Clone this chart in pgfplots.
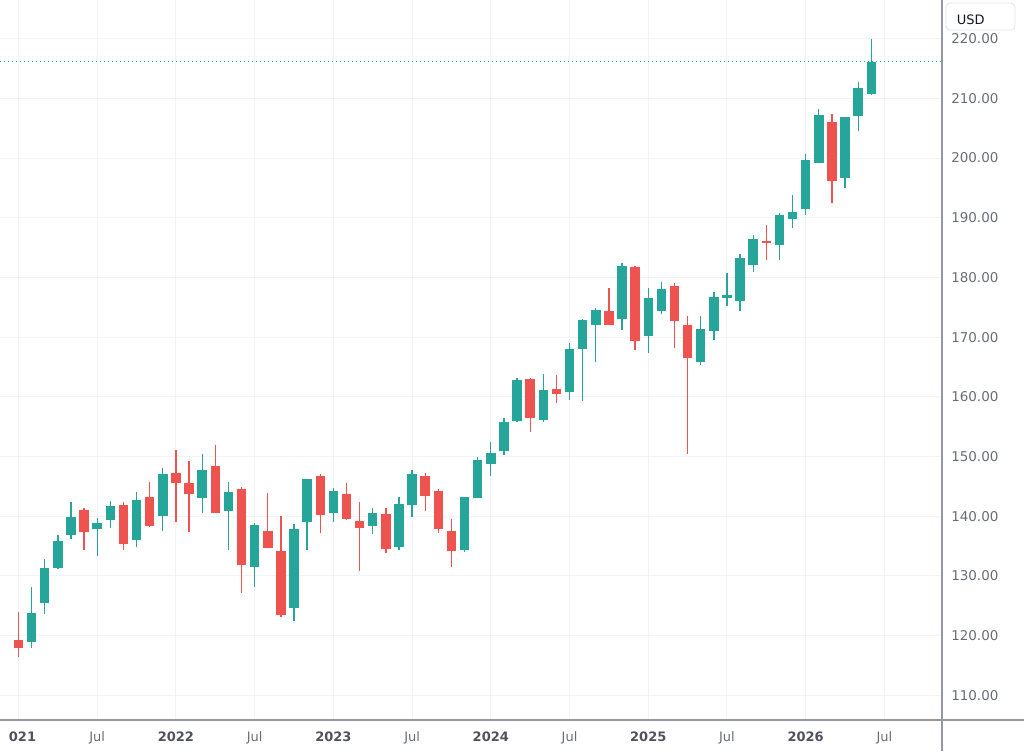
\documentclass[border=0pt]{standalone}
\usepackage{pgfplots}
\pgfplotsset{compat=1.18}
\usepackage{pgfplotstable}
\usepackage{fontspec}
\setmainfont{DejaVu Sans}
\definecolor{up}{HTML}{26A69A}
\definecolor{down}{HTML}{EF5350}
\definecolor{gridc}{HTML}{F0F3FA}
\definecolor{axc}{HTML}{9598A1}
\definecolor{lblc}{HTML}{6A6D78}
\definecolor{yearc}{HTML}{50535E}
\definecolor{boxc}{HTML}{E0E3EB}
\definecolor{txtc}{HTML}{131722}

\pgfplotstableread{
i open high low close
1 118.9 128.1 118.0 123.8
2 125.5 132.9 123.6 131.4
3 131.3 136.8 131.1 135.9
4 136.8 142.3 136.2 139.9
6 137.8 139.75 133.4 138.8
7 139.3 142.5 138.0 141.7
9 136.0 144.05 134.9 142.65
11 140.1 148.0 137.5 147.0
14 143.1 150.5 140.6 147.7
16 140.9 145.8 134.4 144.05
18 131.5 138.8 128.1 138.5
21 124.65 138.7 122.5 137.9
22 139.1 146.3 134.4 146.2
24 140.6 144.8 139.1 144.2
27 138.3 141.3 137.0 140.5
29 134.8 143.2 134.3 142.0
30 141.9 147.7 139.9 147.0
34 134.3 143.3 134.0 143.15
35 143.0 150.0 143.0 149.4
36 148.7 152.4 146.7 150.65
37 151.0 156.4 150.3 155.7
38 156.0 163.2 155.7 162.8
40 156.1 163.8 155.7 161.2
42 160.8 169.1 159.5 168.0
43 168.0 173.0 159.3 172.85
44 172.0 174.8 165.9 174.5
46 173.0 182.4 171.2 181.9
48 170.2 178.2 167.4 176.6
49 174.4 179.3 173.9 178.05
52 165.9 173.6 165.3 171.3
53 171.0 177.5 169.55 176.7
54 176.5 180.7 175.25 177.0
55 176.1 183.9 174.4 183.2
56 182.1 187.1 180.9 186.5
58 185.5 190.8 182.9 190.5
59 189.75 193.8 188.3 191.0
60 191.5 200.6 190.5 199.7
61 199.25 208.3 199.2 207.25
63 196.6 206.9 194.95 206.8
64 207.0 212.8 204.45 211.8
65 210.8 220.0 210.6 216.1
}\upcandles

\pgfplotstableread{
i open high low close
0 119.2 124.0 116.4 117.9
5 141.0 141.3 134.4 137.3
8 141.9 142.4 134.4 135.3
10 143.15 145.8 138.2 138.3
12 147.3 151.1 139.1 145.5
13 145.6 149.25 137.4 143.7
15 148.4 151.9 140.5 140.6
17 144.6 144.9 127.2 131.8
19 137.6 143.95 134.7 134.7
20 134.15 140.1 123.2 123.4
23 146.7 147.1 137.2 140.2
25 143.8 145.6 139.3 139.5
26 139.25 142.4 130.8 137.95
28 140.35 141.3 133.8 134.55
31 146.7 147.2 140.9 143.4
32 144.2 144.6 137.2 137.8
33 137.45 139.6 131.5 134.1
39 163.0 163.1 154.1 156.4
41 161.3 163.7 159.0 160.4
45 174.4 178.2 172.0 172.0
47 181.7 182.0 167.9 169.3
50 178.5 179.1 168.1 172.7
51 172.1 173.6 150.5 166.5
57 186.1 188.8 182.9 185.7
62 206.1 207.4 192.5 196.1
}\downcandles

\begin{document}
\begin{tikzpicture}
\useasboundingbox (0,-23.25pt) rectangle (768pt,540pt);
\fill[white] (0,-23.25pt) rectangle (768pt,540pt);
\begin{axis}[
  at={(0,0)}, anchor=south west,
  scale only axis, width=706.5pt, height=540pt,
  xmin=-1.41, xmax=70.39, ymin=105.86, ymax=226.48,
  axis line style={draw=none},
  major tick length=0pt,
  grid=major, grid style={draw=gridc, line width=0.75pt},
  xtick={6,12,...,66},
  xticklabels={Jul,\textcolor{yearc}{\bfseries 2022},Jul,\textcolor{yearc}{\bfseries 2023},Jul,\textcolor{yearc}{\bfseries 2024},Jul,\textcolor{yearc}{\bfseries 2025},Jul,\textcolor{yearc}{\bfseries 2026},Jul},
  extra x ticks={0},
  extra x tick labels={\textcolor{yearc}{\bfseries 021}},
  extra x tick style={grid=major, xticklabel style={xshift=3pt}},
  xticklabel style={anchor=base, yshift=-16pt, inner sep=0pt, text=lblc, font=\fontsize{9.75pt}{11pt}\selectfont},
  ytick={110,120,...,220},
  yticklabel pos=right,
  yticklabel style={anchor=west, xshift=6.75pt, inner sep=0pt, text=lblc, font=\fontsize{10.1pt}{12pt}\selectfont,
    /pgf/number format/.cd, fixed, fixed zerofill, precision=2, assume math mode=true},
  candle/.style={draw=none, mark=none, error bars/y dir=plus, error bars/y explicit, error bars/error mark=none},
]
% price line
\addplot[up, line width=0.75pt, dash pattern=on 0.75pt off 2.25pt] coordinates {(-1.41,216.1) (70.39,216.1)};
% wicks
\addplot[candle, error bars/error bar style={draw=up, line width=1pt}]
  table[x=i, y=low, y error plus expr=\thisrow{high}-\thisrow{low}] {\upcandles};
\addplot[candle, error bars/error bar style={draw=down, line width=1pt}]
  table[x=i, y=low, y error plus expr=\thisrow{high}-\thisrow{low}] {\downcandles};
% bodies
\addplot[candle, error bars/error bar style={draw=up, line width=7.1pt}]
  table[x=i, y=open, y error plus expr=\thisrow{close}-\thisrow{open}] {\upcandles};
\addplot[candle, error bars/error bar style={draw=down, line width=7.1pt}]
  table[x=i, y=close, y error plus expr=\thisrow{open}-\thisrow{close}] {\downcandles};
\end{axis}
\draw[axc, line width=0.9pt] (0,0) -- (768pt,0);
\draw[axc, line width=0.9pt] (706.5pt,-23.25pt) -- (706.5pt,540pt);
\draw[boxc, line width=0.6pt, fill=white, rounded corners=3pt] (709.5pt,517.5pt) rectangle (761.25pt,537.75pt);
\node[text=txtc, inner sep=0pt, font=\fontsize{9.75pt}{11pt}\selectfont] at (728.1pt,525.4pt) {USD};
\end{tikzpicture}
\end{document}
